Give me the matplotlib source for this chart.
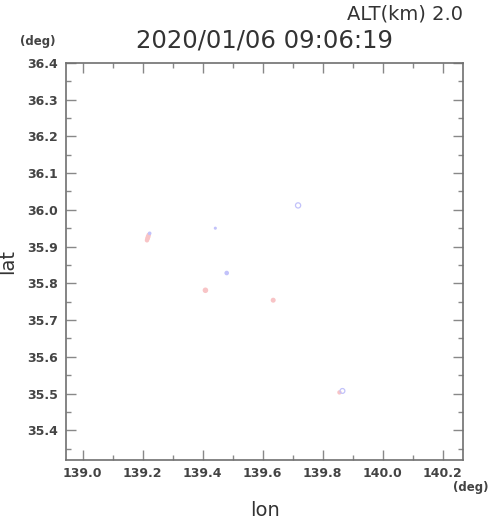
import matplotlib
matplotlib.use("Agg")
import matplotlib.pyplot as plt
from matplotlib.ticker import MultipleLocator, FormatStrFormatter

# ---- data ----
title = "2020/01/06 09:06:19"
alt_label = "ALT(km) 2.0"
xlim = (138.944, 140.269)
ylim = (35.319, 36.401)

pink_lon = [139.214, 139.216, 139.218, 139.220, 139.409, 139.635, 139.856]
pink_lat = [35.917, 35.922, 35.927, 35.932, 35.781, 35.754, 35.503]
pink_size = [10, 12, 12, 10, 16, 13, 10]

blue_lon = [139.223, 139.442, 139.480]
blue_lat = [35.936, 35.950, 35.828]
blue_size = [7, 5, 11]

ring_lon = [139.718, 139.866]
ring_lat = [36.012, 35.507]
ring_size = [14, 12]

W, H = 490, 521
fig = plt.figure(figsize=(W / 100, H / 100), dpi=100)
ax = fig.add_axes([66 / W, 1 - 460 / H, 397.3 / W, 397.5 / H])

ax.scatter(pink_lon, pink_lat, s=pink_size, color="#f8c4c6", edgecolors="none", zorder=3)
ax.scatter(blue_lon, blue_lat, s=blue_size, color="#c2c2fa", edgecolors="none", zorder=3)
ax.scatter(ring_lon, ring_lat, s=ring_size, facecolors="none", edgecolors="#c2c2fa",
           linewidths=0.9, zorder=4)

ax.set_xlim(*xlim)
ax.set_ylim(*ylim)

ax.xaxis.set_major_locator(MultipleLocator(0.2))
ax.xaxis.set_minor_locator(MultipleLocator(0.1))
ax.yaxis.set_major_locator(MultipleLocator(0.1))
ax.yaxis.set_minor_locator(MultipleLocator(0.05))
ax.xaxis.set_major_formatter(FormatStrFormatter("%.1f"))
ax.yaxis.set_major_formatter(FormatStrFormatter("%.1f"))

tc = "#888888"
ax.tick_params(which="both", direction="in", top=True, right=True,
               color=tc, width=1.0)
ax.tick_params(which="major", length=7)
ax.tick_params(which="minor", length=3.5)
ax.tick_params(axis="x", which="major", pad=5)
ax.tick_params(axis="y", which="major", pad=6)
for lab in ax.get_xticklabels() + ax.get_yticklabels():
    lab.set_fontweight("bold")
    lab.set_fontsize(9)
    lab.set_color("#444444")

for sp in ax.spines.values():
    sp.set_color("#707070")
    sp.set_linewidth(1.2)

tcol = "#333333"
fig.text(463 / W, 1 - 14 / H, alt_label, ha="right", va="center", fontsize=14, color=tcol)
fig.text(264.5 / W, 1 - 40 / H, title, ha="center", va="center", fontsize=17.5, color=tcol)
fig.text(38 / W, 1 - 41 / H, "(deg)", ha="center", va="center", fontsize=8.5,
         fontweight="bold", color="#444444")
fig.text(471 / W, 1 - 487 / H, "(deg)", ha="center", va="center", fontsize=8.5,
         fontweight="bold", color="#444444")
fig.text(264.5 / W, 1 - 511 / H, "lon", ha="center", va="center", fontsize=14, color=tcol)
fig.text(8 / W, 1 - 261 / H, "lat", ha="center", va="center", fontsize=14,
         rotation=90, color=tcol)

fig.savefig("out.png", dpi=100)
